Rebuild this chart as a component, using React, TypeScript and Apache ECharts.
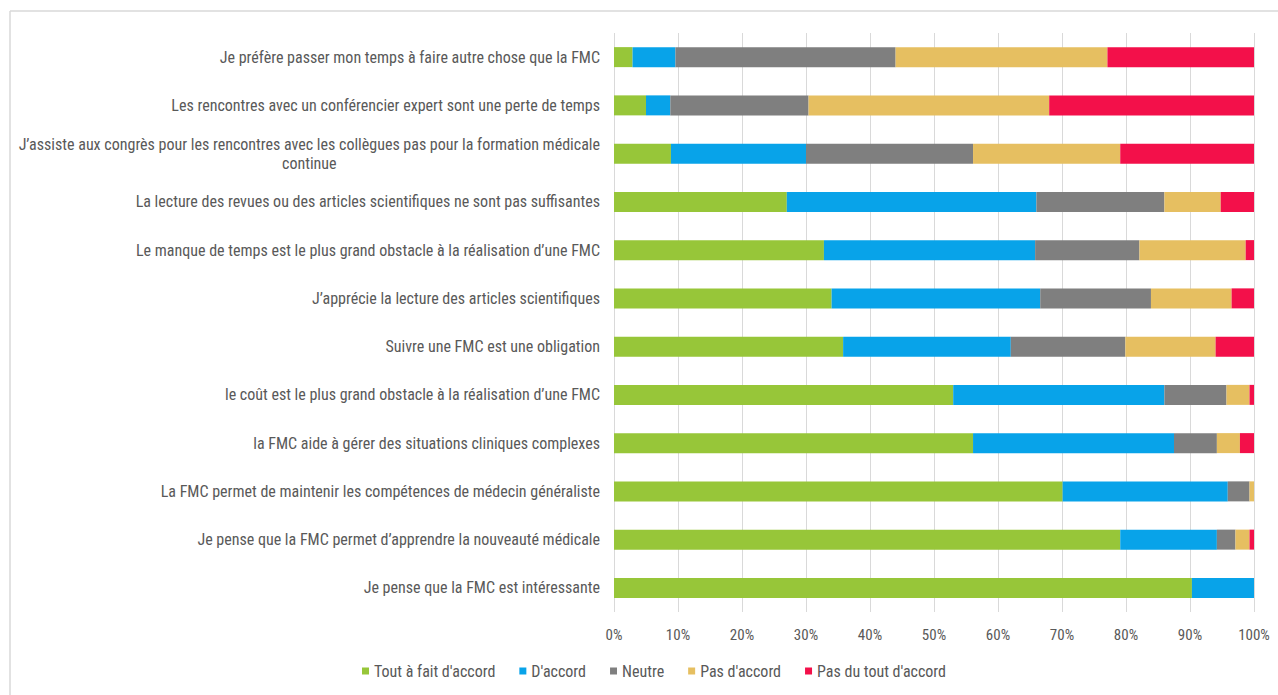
import React, { useEffect, useRef } from "react";
import * as echarts from "echarts";

const categories = [
  "Je préfère passer mon temps à faire autre chose que la FMC",
  "Les rencontres avec un conférencier expert sont une perte de temps",
  "J’assiste aux congrès pour les rencontres avec les collègues pas pour la formation médicale\ncontinue",
  "La lecture des revues ou des articles scientifiques ne sont pas suffisantes",
  "Le manque de temps est le plus grand obstacle à la réalisation d’une FMC",
  "J’apprécie la lecture des articles scientifiques",
  "Suivre une FMC est une obligation",
  "le coût est le plus grand obstacle à la réalisation d’une FMC",
  "la FMC aide à gérer des situations cliniques complexes",
  "La FMC permet de maintenir les compétences de médecin généraliste",
  "Je pense que la FMC permet d’apprendre la nouveauté médicale",
  "Je pense que la FMC est intéressante",
];

const seriesNames = [
  "Tout à fait d'accord",
  "D'accord",
  "Neutre",
  "Pas d'accord",
  "Pas du tout d'accord",
];

// values in %, same order as categories (top to bottom)
const toutAFait = [2.9, 5.0, 8.9, 27.0, 32.8, 34.0, 35.8, 53.0, 56.1, 70.1, 79.1, 90.3];
const daccord = [6.7, 3.8, 21.1, 39.0, 33.0, 32.6, 26.2, 33.0, 31.4, 25.8, 15.1, 9.7];
const neutre = [34.4, 21.6, 26.1, 20.0, 16.3, 17.3, 17.9, 9.7, 6.7, 3.4, 2.9, 0];
const pasDaccord = [33.1, 37.6, 23.0, 8.8, 16.6, 12.6, 14.1, 3.6, 3.6, 0.7, 2.2, 0];
const pasDuTout = [22.9, 32.0, 20.9, 5.2, 1.3, 3.5, 6.0, 0.7, 2.2, 0, 0.7, 0];

const xTicks = [0, 10, 20, 30, 40, 50, 60, 70, 80, 90, 100];

const colors = ["#97c639", "#08a3e9", "#7f7f7f", "#e6bf61", "#f3104a"];

const FONT = "'Liberation Sans Narrow', 'Roboto Condensed', 'Open Sans', sans-serif";

export default function App() {
  const ref = useRef<HTMLDivElement>(null);
  useEffect(() => {
    if (!ref.current) return;
    const chart = echarts.init(ref.current, undefined, { renderer: "svg" });
    const allSeries = [toutAFait, daccord, neutre, pasDaccord, pasDuTout];
    const cats = [...categories].reverse();
    chart.setOption({
      animation: false,
      backgroundColor: "#ffffff",
      color: colors,
      graphic: [
        {
          type: "line",
          shape: { x1: 10, y1: 11, x2: 1278, y2: 11 },
          style: { stroke: "#d9d9d9", lineWidth: 1.5 },
          silent: true,
        },
        {
          type: "line",
          shape: { x1: 10, y1: 11, x2: 10, y2: 695 },
          style: { stroke: "#d9d9d9", lineWidth: 1.5 },
          silent: true,
        },
      ],
      legend: {
        data: seriesNames,
        bottom: 11,
        left: 357,
        itemWidth: 7,
        itemHeight: 7,
        itemGap: 24,
        icon: "rect",
        textStyle: { color: "#595959", fontSize: 16, fontFamily: FONT },
      },
      grid: { left: 614, right: 24, top: 33, bottom: 83, containLabel: false },
      xAxis: {
        type: "value",
        min: 0,
        max: 100,
        interval: 10,
        axisLine: { show: false },
        axisTick: { show: false },
        splitLine: { show: true, lineStyle: { color: "#d9d9d9", width: 1 } },
        axisLabel: {
          color: "#595959",
          fontSize: 15,
          fontFamily: FONT,
          margin: 15,
          formatter: (v: number) => (xTicks.includes(v) ? v + "%" : ""),
        },
      },
      yAxis: {
        type: "category",
        data: cats,
        axisLine: { show: false },
        axisTick: { show: false },
        axisLabel: {
          color: "#595959",
          fontSize: 16,
          fontFamily: FONT,
          margin: 14,
          lineHeight: 19,
          formatter: (v: string) => {
            const parts = v.split("\n");
            if (parts.length > 1) {
              return "{a|" + parts[0] + "}\n{c|" + parts[1] + "}";
            }
            return v;
          },
          rich: {
            a: { color: "#595959", fontSize: 16, fontFamily: FONT, lineHeight: 19 },
            c: { color: "#595959", fontSize: 16, fontFamily: FONT, lineHeight: 19, align: "center" },
          },
        },
      },
      series: seriesNames.map((name, i) => ({
        name,
        type: "bar",
        stack: "total",
        barWidth: 20,
        data: [...allSeries[i]].reverse(),
        itemStyle: { color: colors[i] },
      })),
    });
    return () => chart.dispose();
  }, []);
  return (
    <div
      ref={ref}
      style={{ position: "absolute", left: 0, top: 0, width: 1278, height: 695 }}
    />
  );
}
